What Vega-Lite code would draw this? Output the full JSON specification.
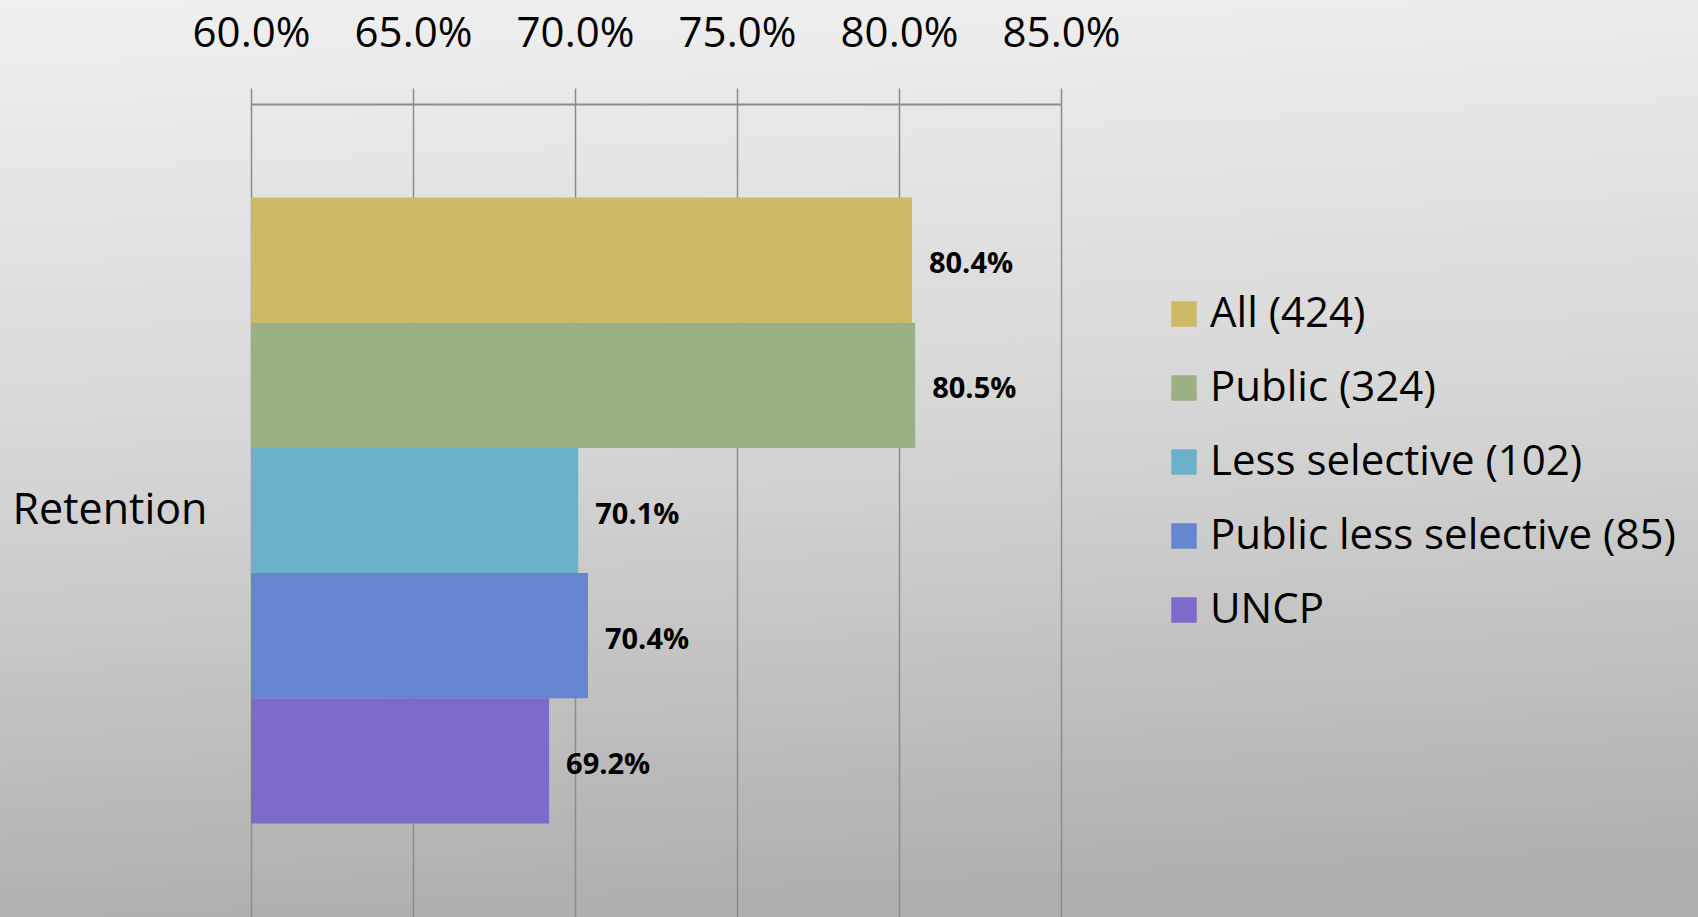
{
  "$schema": "https://vega.github.io/schema/vega-lite/v6.json",
  "width": 1698,
  "height": 917,
  "padding": 0,
  "autosize": {"type": "none"},
  "background": "#d6d6d6",
  "config": {
    "font": "Open Sans",
    "view": {
      "stroke": null,
      "fill": {
        "gradient": "linear",
        "x1": 0, "y1": 0, "x2": 0.08, "y2": 1,
        "stops": [
          {"offset": 0, "color": "#f0f0f0"},
          {"offset": 0.5, "color": "#d6d6d6"},
          {"offset": 1, "color": "#b0b0b0"}
        ]
      }
    }
  },
  "data": {
    "values": [
      {"category": "Retention", "series": "All (424)", "value": 0.804},
      {"category": "Retention", "series": "Public (324)", "value": 0.805},
      {"category": "Retention", "series": "Less selective (102)", "value": 0.701},
      {"category": "Retention", "series": "Public less selective (85)", "value": 0.704},
      {"category": "Retention", "series": "UNCP", "value": 0.692}
    ]
  },
  "encoding": {
    "y": {
      "field": "category",
      "type": "nominal",
      "scale": {"range": [104, 917], "paddingInner": 0, "paddingOuter": 0.1494},
      "axis": {
        "orient": "left",
        "offset": -251,
        "title": null,
        "domain": false,
        "ticks": false,
        "grid": false,
        "labelPadding": 44,
        "labelFontSize": 43,
        "labelLimit": 500,
        "labelColor": "#000000",
        "labelFont": "Open Sans"
      }
    },
    "yOffset": {
      "field": "series",
      "type": "nominal",
      "sort": ["All (424)", "Public (324)", "Less selective (102)", "Public less selective (85)", "UNCP"],
      "scale": {"paddingInner": 0, "paddingOuter": 0}
    },
    "x": {
      "field": "value",
      "type": "quantitative",
      "scale": {"domain": [0.6, 0.85], "range": [251, 1061], "zero": false, "nice": false},
      "axis": {
        "orient": "top",
        "offset": -104,
        "title": null,
        "values": [0.6, 0.65, 0.7, 0.75, 0.8, 0.85],
        "format": ".1%",
        "grid": true,
        "gridColor": "#8c8c8c",
        "gridWidth": 1.5,
        "gridOpacity": 1,
        "domainColor": "#8c8c8c",
        "domainWidth": 2,
        "tickColor": "#8c8c8c",
        "tickWidth": 1.5,
        "tickSize": 16,
        "labelFontSize": 42,
        "labelColor": "#000000",
        "labelPadding": 42,
        "labelBaseline": "alphabetic",
        "labelOverlap": false,
        "labelFlush": false,
        "labelAlign": "center",
        "labelLimit": 300
      }
    }
  },
  "layer": [
    {
      "mark": {"type": "bar", "clip": false},
      "encoding": {
        "x2": {"datum": 0.6},
        "color": {
          "field": "series",
          "type": "nominal",
          "scale": {
            "domain": ["All (424)", "Public (324)", "Less selective (102)", "Public less selective (85)", "UNCP"],
            "range": ["#CEB966", "#9CB084", "#6BB1C9", "#6585CF", "#7E6BC9"]
          },
          "legend": {
            "orient": "none",
            "legendX": 1163,
            "legendY": 293,
            "title": null,
            "padding": 0,
            "symbolType": "square",
            "symbolSize": 650,
            "symbolStrokeWidth": 0,
            "symbolOpacity": 1,
            "labelFontSize": 42,
            "labelColor": "#000000",
            "labelOffset": 5,
            "rowPadding": 32,
            "labelLimit": 600
          }
        }
      }
    },
    {
      "mark": {"type": "text", "align": "left", "baseline": "middle", "dx": 17, "dy": 4, "fontWeight": "bold", "fontSize": 29, "color": "#000000"},
      "encoding": {
        "text": {"field": "value", "type": "quantitative", "format": ".1%"}
      }
    }
  ]
}
